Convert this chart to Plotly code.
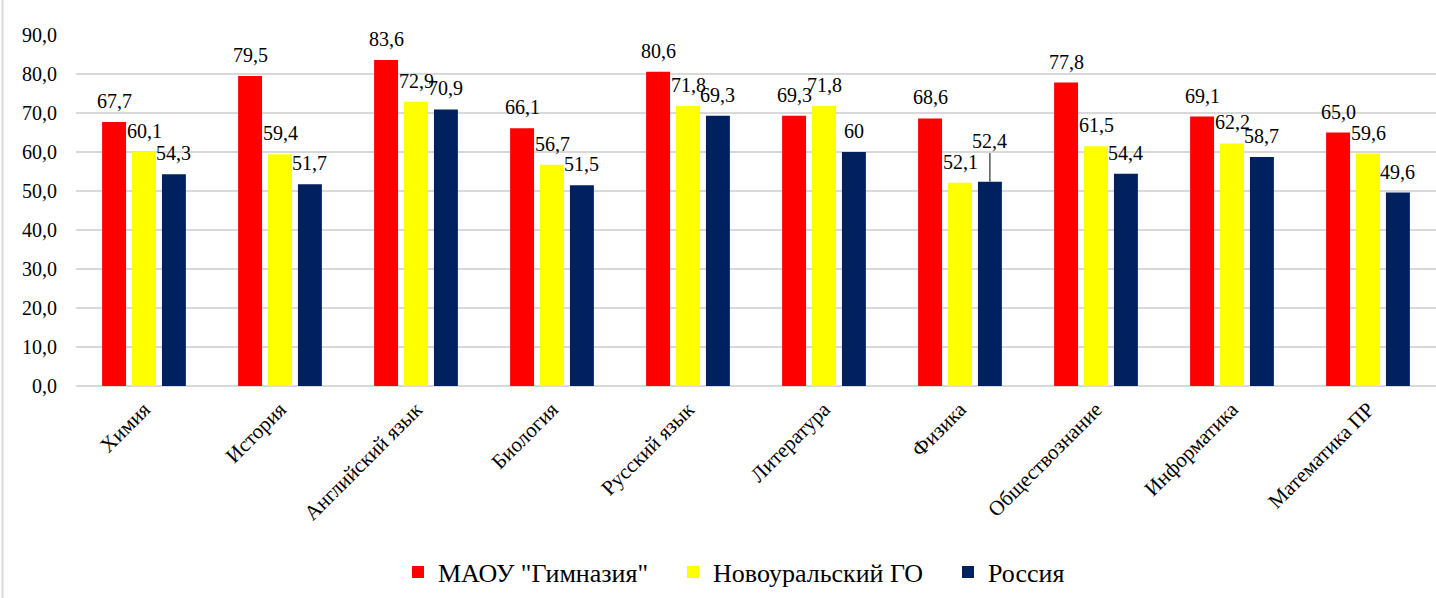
import plotly.graph_objects as go

categories = ["Химия", "История", "Английский язык", "Биология", "Русский язык",
              "Литература", "Физика", "Обществознание", "Информатика", "Математика ПР"]
series_names = ['МАОУ "Гимназия"', "Новоуральский ГО", "Россия"]
gymnasium = [67.7, 79.5, 83.6, 66.1, 80.6, 69.3, 68.6, 77.8, 69.1, 65.0]
novouralsk = [60.1, 59.4, 72.9, 56.7, 71.8, 71.8, 52.1, 61.5, 62.2, 59.6]
russia = [54.3, 51.7, 70.9, 51.5, 69.3, 60, 52.4, 54.4, 58.7, 49.6]
colors = ["#FF0000", "#FFFF00", "#002060"]
y_ticks = [0, 10, 20, 30, 40, 50, 60, 70, 80, 90]

W, H = 1436, 598
ML, MR, MT, MB = 76, 0, 35, 212
BARGAP, BARGROUPGAP = 0.34, 0.2
FONT = "'Liberation Serif', 'Times New Roman', serif"


def fmt(v):
    if isinstance(v, int):
        return str(v)
    return f"{v:.1f}".replace(".", ",")


fig = go.Figure()
all_series = [gymnasium, novouralsk, russia]
for name, vals, col in zip(series_names, all_series, colors):
    fig.add_trace(go.Bar(
        name=name, x=categories, y=vals,
        marker=dict(color=col, line=dict(width=0)),
    ))

plot_w = W - ML - MR
plot_h = H - MT - MB
cat_px = plot_w / len(categories)
slot = cat_px * (1 - BARGAP) / len(all_series)

# data labels (Excel-style, centred above each bar)
for si, vals in enumerate(all_series):
    xs = (si - (len(all_series) - 1) / 2) * slot
    for ci, v in enumerate(vals):
        leader = (si == 2 and categories[ci] == "Физика")
        if leader:
            fig.add_annotation(
                x=categories[ci], y=v, text=fmt(v), xshift=xs,
                showarrow=True, arrowhead=0, arrowwidth=1, arrowcolor="black",
                ax=0, ay=-41, standoff=0,
                font=dict(family=FONT, size=20, color="black"),
            )
        else:
            fig.add_annotation(
                x=categories[ci], y=v, text=fmt(v), xshift=xs, yshift=21,
                showarrow=False, yanchor="middle", xanchor="center",
                font=dict(family=FONT, size=20, color="black"),
            )

# chart-area left border
fig.add_shape(type="line", xref="paper", yref="paper",
              x0=(2.5 - ML) / plot_w, x1=(2.5 - ML) / plot_w,
              y0=-MB / plot_h, y1=1 + MT / plot_h,
              line=dict(color="#d9d9d9", width=2))

fig.update_layout(
    width=W, height=H,
    margin=dict(l=ML, r=MR, t=MT, b=MB, autoexpand=False),
    barmode="group", bargap=BARGAP, bargroupgap=BARGROUPGAP,
    plot_bgcolor="white", paper_bgcolor="white",
    separators=", ",
    font=dict(family=FONT, color="black"),
    showlegend=True,
    legend=dict(orientation="h", x=(398 - ML) / plot_w, xanchor="left",
                y=-0.53, yanchor="middle",
                font=dict(family=FONT, size=26, color="black"),
                entrywidth=230, entrywidthmode="pixels",
                itemsizing="constant", traceorder="normal"),
    xaxis=dict(tickangle=-45, tickfont=dict(family=FONT, size=21, color="black"),
               showgrid=False, showline=False, ticks="", ticklabelstandoff=6),
    yaxis=dict(range=[0, 90], tickvals=y_ticks, tickformat=".1f",
               tickfont=dict(family=FONT, size=20, color="black"),
               showgrid=True, gridcolor="#d9d9d9", gridwidth=2,
               zeroline=True, zerolinecolor="#d9d9d9", zerolinewidth=2,
               showline=False, ticks="", ticklabelstandoff=18),
)

fig.write_html("out.html", config={"displayModeBar": False},
               post_script="document.body.style.margin='0';")
